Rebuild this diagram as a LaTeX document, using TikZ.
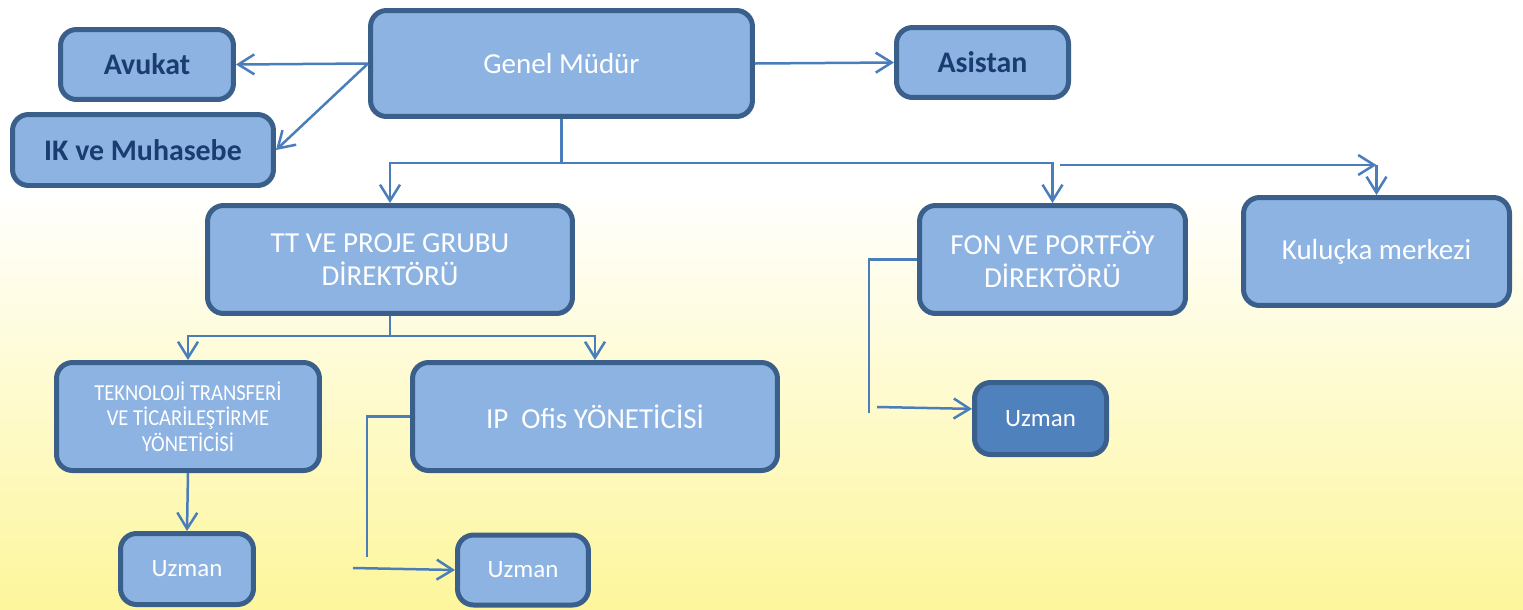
\documentclass[tikz,border=0pt]{standalone}
\usepackage{fontspec}
\setmainfont{Carlito}
\newfontfamily\narrowfont[FakeStretch=0.9]{Carlito}
\usetikzlibrary{arrows.meta}
\definecolor{boxfill}{HTML}{8DB3E2}
\definecolor{boxline}{HTML}{3A5F8B}
\definecolor{linkblue}{HTML}{4A7EBB}
\definecolor{darkfill}{HTML}{4F81BD}
\definecolor{inkblue}{HTML}{1A3C70}
\definecolor{bgbot}{HTML}{FDF69C}
\tikzset{>=Straight Barb}
\tikzset{unit/.style = {shape=rectangle, draw=boxline, fill=boxfill, line width=0.1cm, rounded corners=0.32cm, inner sep=0pt, align=center, text=white, font=\fontsize{16.5}{18.6}\selectfont}}
\tikzset{staff/.style = {unit, text=inkblue, font=\fontsize{17}{20}\selectfont\bfseries}}
\tikzset{expert/.style = {unit, font=\fontsize{14.2}{17}\selectfont}}
\tikzset{link/.style = {draw=linkblue, line width=0.05cm, -{Straight Barb[length=0.32cm, width=0.4cm]}}}
\tikzset{wire/.style = {draw=linkblue, line width=0.05cm}}

\begin{document}
\begin{tikzpicture}[x=0.02cm, y=-0.02cm]
  \fill[white] (0,0) rectangle (1523,190);
  \shade[top color=white, bottom color=bgbot] (0,190) rectangle (1523,609);
  \useasboundingbox (0,0) rectangle (1523,609);

  % top row
  \node[unit, minimum width=7.64cm, minimum height=2.12cm] (genel) at (561.5,63.5) {Genel Müdür};
  \node[staff, minimum width=3.46cm, minimum height=1.40cm] (avukat) at (147,64.5) {Avukat};
  \node[staff, minimum width=5.22cm, minimum height=1.42cm] (ik) at (143,150) {IK ve Muhasebe};
  \node[staff, minimum width=3.44cm, minimum height=1.40cm] (asistan) at (982.5,62.5) {Asistan};

  % directors
  \node[unit, minimum width=7.30cm, minimum height=2.16cm] (tt) at (390,259.5) {TT VE PROJE GRUBU\\DİREKTÖRÜ};
  \node[unit, minimum width=5.32cm, minimum height=2.16cm] (fon) at (1052.5,259.5) {FON VE PORTFÖY\\DİREKTÖRÜ};
  \node[unit, minimum width=5.32cm, minimum height=2.16cm] (kulucka) at (1376.5,251.5) {Kuluçka merkezi};

  % managers
  \node[unit, minimum width=5.26cm, minimum height=2.16cm, font=\narrowfont\fontsize{13}{14.6}\selectfont] (tekno) at (188,416.5) {TEKNOLOJİ TRANSFERİ\\VE TİCARİLEŞTİRME\\YÖNETİCİSİ};
  \node[unit, minimum width=7.30cm, minimum height=2.16cm] (ipofis) at (595,416.5) {IP~~Ofis YÖNETİCİSİ};

  % experts
  \node[expert, minimum width=2.66cm, minimum height=1.42cm] (uzmanA) at (187,569) {Uzman};
  \node[expert, minimum width=2.62cm, minimum height=1.40cm] (uzmanB) at (523,570) {Uzman};
  \node[expert, fill=darkfill, minimum width=2.64cm, minimum height=1.44cm] (uzmanC) at (1040.5,418.5) {Uzman};

  % connectors
  \draw[link] (genel.west) -- (avukat.east);
  \draw[link] (genel.west) -- (ik.east);
  \draw[link] (genel.east) -- (asistan.west);

  \coordinate (split1) at (561.5,163);
  \draw[wire] (genel.south) -- (split1);
  \draw[link] (split1) -| (tt.north);
  \draw[link] (split1) -| (fon.north);

  \coordinate (kstart) at (1060,165);
  \coordinate (kturn) at (kulucka.north |- kstart);
  \draw[link] (kstart) -- (kturn);
  \draw[link] (kturn) -- (kulucka.north);

  \coordinate (split2) at (390,336);
  \draw[wire] (tt.south) -- (split2);
  \draw[link] (split2) -| (tekno.north);
  \draw[link] (split2) -| (ipofis.north);
  \draw[link] (tekno.south) -- (uzmanA.north);

  \coordinate (ipdrop) at (367,557);
  \coordinate (ipfeed) at (353,568);
  \draw[wire] (ipofis.west) -| (ipdrop);
  \draw[link] (ipfeed) -- (uzmanB.west);

  \coordinate (fondrop) at (869,413);
  \coordinate (fonfeed) at (877,407);
  \draw[wire] (fon.west) -| (fondrop);
  \draw[link] (fonfeed) -- (uzmanC.172);
\end{tikzpicture}
\end{document}
